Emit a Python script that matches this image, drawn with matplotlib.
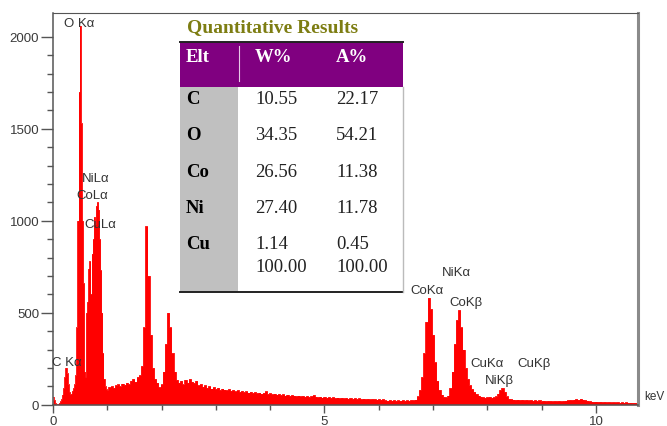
import numpy as np
import matplotlib
matplotlib.use("Agg")
import matplotlib.pyplot as plt
from matplotlib.patches import Rectangle

# ---------------- data ----------------
# EDS spectrum counts, 0.00-0.98 keV in 0.02 keV channels
counts_low = [40, 25, 8, 2, 0, 3, 10, 18, 30, 55,
              90, 150, 200, 170, 110, 70, 55, 60, 75, 90,
              110, 160, 420, 1000, 1700, 2060, 1530, 1000, 660, 180,
              150, 500, 560, 740, 780, 600, 820, 900, 1020, 980,
              1080, 1100, 1060, 900, 730, 500, 280, 140, 100, 85]
low_start, low_step = 0.0, 0.02

# EDS spectrum counts, 1.00-10.76 keV in 0.04 keV channels
counts_high = [
    80, 95, 100, 92, 105, 110, 100, 115, 108, 120,          # 1.00-1.36
    112, 130, 140, 125, 150, 160, 210, 420, 970, 700,       # 1.40-1.76
    380, 200, 140, 120, 95, 110, 180, 330, 500, 420,        # 1.80-2.16
    280, 180, 135, 120, 130, 110, 135, 120, 140, 125,       # 2.20-2.56
    118, 130, 105, 112, 98, 105, 92, 100, 88, 95,           # 2.60-2.96
    85, 92, 80, 88, 82, 78, 85, 76, 80, 72,                 # 3.00-3.36
    78, 70, 75, 68, 72, 66, 70, 64, 68, 62,                 # 3.40-3.76
    66, 60, 64, 72, 58, 62, 56, 60, 55, 58,                 # 3.80-4.16
    52, 56, 50, 54, 48, 52, 50, 46, 50, 45,                 # 4.20-4.56
    48, 44, 47, 42, 46, 52, 44, 40, 44, 39,                 # 4.60-4.96
    42, 38, 41, 37, 40, 36, 39, 35, 38, 34,                 # 5.00-5.36
    37, 33, 36, 32, 35, 31, 34, 30, 33, 30,                 # 5.40-5.76
    32, 29, 31, 30, 28, 30, 27, 29, 24, 22,                 # 5.80-6.16
    25, 22, 24, 21, 23, 22, 24, 21, 23, 22,                 # 6.20-6.56
    25, 24, 28, 45, 80, 150, 280, 450, 581, 520,            # 6.60-6.96
    380, 230, 130, 80, 55, 42, 40, 50, 90, 180,             # 7.00-7.36
    330, 460, 514, 420, 300, 200, 140, 105, 85, 70,         # 7.40-7.76
    58, 50, 44, 40, 38, 40, 42, 38, 40, 45,                 # 7.80-8.16
    60, 80, 90, 70, 45, 32, 30, 28, 26, 28,                 # 8.20-8.56
    25, 27, 24, 26, 23, 25, 22, 24, 21, 23,                 # 8.60-8.96
    20, 22, 19, 21, 20, 18, 20, 19, 21, 18,                 # 9.00-9.36
    20, 22, 24, 26, 25, 28, 30, 27, 32, 28,                 # 9.40-9.76
    25, 22, 18, 17, 16, 17, 15, 16, 14, 15,                 # 9.80-10.16
    13, 14, 12, 13, 12, 13, 11, 12, 11, 12,                 # 10.20-10.56
    10, 11, 10, 10, 9]                                      # 10.60-10.76
high_start, high_step = 1.0, 0.04

y_ticks = [0, 500, 1000, 1500, 2000]
x_ticks = [0, 5, 10]

peak_labels = ["O K\u03b1", "NiL\u03b1", "CoL\u03b1", "CuL\u03b1", "C K\u03b1",
               "NiK\u03b1", "CoK\u03b1", "CoK\u03b2", "CuK\u03b1", "CuK\u03b2", "NiK\u03b2"]

table_title = "Quantitative Results"
table_header = ["Elt", "W%", "A%"]
elements = ["C", "O", "Co", "Ni", "Cu"]
weight_pct = ["10.55", "34.35", "26.56", "27.40", "1.14"]
atomic_pct = ["22.17", "54.21", "11.38", "11.78", "0.45"]
totals = ["100.00", "100.00"]

# ---------------- figure ----------------
W, H = 667, 427
fig = plt.figure(figsize=(W / 100, H / 100), dpi=100)
fig.patch.set_facecolor("white")

ax_l, ax_r, ax_b, ax_t = 53, 638.3, 405.7, 14
ax = fig.add_axes([ax_l / W, 1 - ax_b / H, (ax_r - ax_l) / W, (ax_b - ax_t) / H])

e_low = low_start + low_step * np.arange(len(counts_low))
e_high = high_start + high_step * np.arange(len(counts_high))
energy = np.concatenate([e_low, e_high])
counts = np.concatenate([counts_low, counts_high])

ax.fill_between(energy, counts, step="mid", color="#ff0000", lw=0)
ax.step(energy, counts, where="mid", color="#ff0000", lw=0.6)

xmax = 10.78
ymax = 2129
ax.set_xlim(0, xmax)
ax.set_ylim(0, ymax)

ax.set_xticks(x_ticks)
ax.set_xticks(np.arange(1, 11), minor=True)
ax.set_yticks(y_ticks)
ax.set_yticks(np.arange(100, 2100, 100), minor=True)
ax.tick_params(axis="y", which="major", direction="out", length=9, width=1,
               color="#555555", labelsize=9.5, labelcolor="#3a3a3a", pad=1)
ax.tick_params(axis="y", which="minor", direction="out", length=4.5, width=1,
               color="#555555")
ax.tick_params(axis="x", which="major", direction="out", length=6, width=1,
               color="#555555", labelsize=9.5, labelcolor="#3a3a3a", pad=1.5)
ax.tick_params(axis="x", which="minor", direction="out", length=3.5, width=1,
               color="#555555")
for lbl in ax.get_xticklabels() + ax.get_yticklabels():
    lbl.set_family("Liberation Sans")

ax.spines["left"].set_color("#555555")
ax.spines["left"].set_linewidth(1.1)
ax.spines["bottom"].set_color("#555555")
ax.spines["bottom"].set_linewidth(1.1)
ax.spines["top"].set_color("#555555")
ax.spines["top"].set_linewidth(0.8)
ax.spines["right"].set_color("#8a8a8a")
ax.spines["right"].set_linewidth(2.2)

# peak labels (text anchor positions in pixels -> data)
label_px = [(64, 24), (82, 179), (76, 196), (84, 225), (52, 363),
            (442, 273), (410, 291), (449, 303), (470, 364), (517, 364), (485, 381)]
for name, (px, py) in zip(peak_labels, label_px):
    ex = (px - ax_l) / (ax_r - ax_l) * xmax
    cy = (ax_b - py) / (ax_b - ax_t) * ymax
    ax.text(ex, cy, name, ha="left", va="center", fontsize=9.5,
            family="Liberation Sans", color="#333333", clip_on=False, zorder=6)

ax.text((644 - ax_l) / (ax_r - ax_l), (ax_b - 397) / (ax_b - ax_t), "keV",
        transform=ax.transAxes, ha="left", va="center", fontsize=8.5,
        family="Liberation Sans", color="#333333", clip_on=False)

# ---------------- results table overlay (pixel coordinates) ----------------
ov = fig.add_axes([0, 0, 1, 1], zorder=5)
ov.set_xlim(0, W)
ov.set_ylim(H, 0)
ov.axis("off")
ov.patch.set_alpha(0)

ov.text(187, 28, table_title, family="Liberation Serif", weight="bold",
        color="#7d7d12", fontsize=14, ha="left", va="center")

ov.add_patch(Rectangle((180, 43), 223, 45, facecolor="#800080", edgecolor="none"))
ov.add_patch(Rectangle((180, 88), 58, 205, facecolor="#c0c0c0", edgecolor="none"))
ov.add_patch(Rectangle((238, 88), 165, 205, facecolor="white", edgecolor="none"))
ov.plot([180, 403], [43, 43], color="#222222", lw=1.4)
ov.plot([180, 403], [293, 293], color="#222222", lw=1.4)
ov.plot([403, 403], [88, 293], color="#bbbbbb", lw=1)
ov.plot([239, 239], [47, 82], color="#e8c8e8", lw=0.8)

fs_tab = 13.5
hdr_x = [186, 255, 336]
for hx, h in zip(hdr_x, table_header):
    ov.text(hx, 57, h, family="Liberation Serif", weight="bold", color="white",
            fontsize=fs_tab, ha="left", va="center")

row_y = [100, 136, 173, 209, 245]
for ry, el, w, a in zip(row_y, elements, weight_pct, atomic_pct):
    ov.text(186, ry, el, family="Liberation Serif", weight="bold", color="black",
            fontsize=fs_tab, ha="left", va="center")
    ov.text(255, ry, w, family="Liberation Serif", color="#222222",
            fontsize=fs_tab, ha="left", va="center")
    ov.text(336, ry, a, family="Liberation Serif", color="#222222",
            fontsize=fs_tab, ha="left", va="center")
ov.text(255, 268, totals[0], family="Liberation Serif", color="#222222",
        fontsize=fs_tab, ha="left", va="center")
ov.text(336, 268, totals[1], family="Liberation Serif", color="#222222",
        fontsize=fs_tab, ha="left", va="center")

fig.savefig("out.png", dpi=100, facecolor="white")
